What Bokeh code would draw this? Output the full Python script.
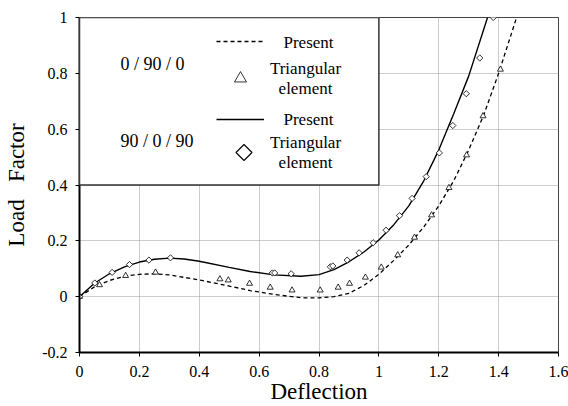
import math
from bokeh.plotting import figure
from bokeh.models import (FixedTicker, BoxAnnotation, Label, Legend, LegendItem,
                          PolyAnnotation, Range1d)
from bokeh.embed import file_html
from bokeh.resources import INLINE

# ---------------- data ----------------
x_ticks = [0, 0.2, 0.4, 0.6, 0.8, 1.0, 1.2, 1.4, 1.6]
x_tick_labels = ["0", "0.2", "0.4", "0.6", "0.8", "1", "1.2", "1.4", "1.6"]
y_ticks = [-0.2, 0, 0.2, 0.4, 0.6, 0.8, 1.0]
y_tick_labels = ["-0.2", "0", "0.2", "0.4", "0.6", "0.8", "1"]
x_title = "Deflection"
y_title = "Load\u00a0\u00a0 Factor"

# 0/90/0 present (dashed)
present_a_x = [0, 0.05, 0.1, 0.15, 0.2, 0.25, 0.3, 0.4, 0.5, 0.57, 0.65, 0.74, 0.8,
               0.85, 0.9, 0.95, 1.0, 1.05, 1.1, 1.15, 1.2, 1.25, 1.3, 1.35, 1.4, 1.46, 1.5]
present_a_y = [0, 0.035, 0.058, 0.073, 0.080, 0.082, 0.078, 0.060, 0.038, 0.022, 0.008,
               -0.004, -0.004, 0.0, 0.012, 0.040, 0.080, 0.130, 0.185, 0.250, 0.325,
               0.415, 0.525, 0.650, 0.800, 1.0, 1.15]
# 0/90/0 triangular element
tri_a_x = [0, 0.067, 0.154, 0.254, 0.469, 0.497, 0.568, 0.637, 0.710, 0.804, 0.864,
           0.902, 0.955, 1.008, 1.063, 1.119, 1.176, 1.234, 1.293, 1.348, 1.406]
tri_a_y = [0, 0.042, 0.075, 0.087, 0.063, 0.059, 0.047, 0.033, 0.023, 0.023, 0.033,
           0.047, 0.069, 0.105, 0.149, 0.212, 0.292, 0.390, 0.507, 0.647, 0.814]
# 90/0/90 present (solid)
present_b_x = [0, 0.05, 0.1, 0.15, 0.2, 0.25, 0.3, 0.35, 0.4, 0.5, 0.57, 0.65, 0.74,
               0.8, 0.85, 0.9, 0.95, 1.0, 1.05, 1.1, 1.15, 1.2, 1.25, 1.3, 1.36, 1.42]
present_b_y = [0, 0.048, 0.082, 0.107, 0.124, 0.134, 0.138, 0.135, 0.127, 0.105, 0.090,
               0.078, 0.073, 0.079, 0.097, 0.125, 0.160, 0.203, 0.258, 0.325, 0.415,
               0.525, 0.655, 0.790, 0.990, 1.2]
# 90/0/90 triangular element
tri_b_x = [0, 0.051, 0.109, 0.167, 0.232, 0.304, 0.644, 0.652, 0.707, 0.838, 0.846,
           0.894, 0.934, 0.981, 1.024, 1.069, 1.111, 1.158, 1.202, 1.247, 1.292, 1.337, 1.382]
tri_b_y = [0, 0.049, 0.087, 0.115, 0.131, 0.139, 0.085, 0.085, 0.082, 0.107, 0.110,
           0.131, 0.157, 0.193, 0.238, 0.290, 0.352, 0.430, 0.515, 0.613, 0.727, 0.855, 1.0]

group_labels = ["0 / 90 / 0", "90 / 0 / 90"]
entry_present = "Present"
entry_tri = ["Triangular", "element"]

FONT = "Liberation Serif"

# ---------------- figure ----------------
p = figure(width=568, height=406, output_backend="svg", toolbar_location=None,
           x_range=Range1d(0, 1.6), y_range=Range1d(-0.2, 1.0),
           min_border_left=79, min_border_right=10, min_border_top=17,
           min_border_bottom=54)
p.background_fill_color = "white"
p.border_fill_color = "white"
p.outline_line_color = "#444444"
p.outline_line_width = 1

for ax, ticks, labels in ((p.xaxis[0], x_ticks, x_tick_labels),
                          (p.yaxis[0], y_ticks, y_tick_labels)):
    ax.ticker = FixedTicker(ticks=ticks)
    ax.major_label_overrides = {t: l for t, l in zip(ticks, labels)}
    ax.axis_line_width = 2
    ax.axis_line_color = "black"
    ax.major_tick_out = 4
    ax.major_tick_in = 0
    ax.major_tick_line_color = "black"
    ax.minor_tick_line_color = None
    ax.major_label_text_font = FONT
    ax.major_label_text_font_size = "16px"
    ax.major_label_text_font_style = "normal"
    ax.major_label_text_color = "black"
    ax.axis_label_text_font = FONT
    ax.axis_label_text_font_size = "23px"
    ax.axis_label_text_font_style = "normal"
    ax.axis_label_text_color = "black"

p.xaxis.axis_label = x_title
p.yaxis.axis_label = y_title
p.xaxis.major_label_standoff = 9
p.xaxis.axis_label_standoff = -1
p.yaxis.major_label_standoff = 8
p.yaxis.axis_label_standoff = 10

for g in (p.xgrid[0], p.ygrid[0]):
    g.grid_line_color = "#999999"
    g.grid_line_dash = "1 1"
    g.grid_line_width = 1

r_pa = p.line(present_a_x, present_a_y, line_color="black", line_width=1.3,
              line_dash="4 3")
r_pb = p.line(present_b_x, present_b_y, line_color="black", line_width=1.4)
r_ta = p.scatter(tri_a_x, tri_a_y, marker="triangle", size=6, fill_color="white",
                 line_color="black", line_width=0.8)
r_tb = p.scatter(tri_b_x, tri_b_y, marker="square", angle=math.pi / 4, size=4.4,
                 fill_color="white", line_color="black", line_width=0.8)

# legend box (spans x 0..1, y 0.4..1 of the plot)
box = BoxAnnotation(left=0, right=1.0, bottom=0.4, top=1.0, fill_color="white",
                    fill_alpha=1.0, line_color="#333333", line_alpha=1.0,
                    line_width=1.5)
p.add_layout(box)

FL, FB = 79, 352  # frame left / bottom in canvas px


def sx(px):
    return px - FL


def sy(py):
    return FB - py


leg1 = Legend(items=[LegendItem(label=" ", renderers=[r_pa]),
                     LegendItem(label=" ", renderers=[r_ta])],
              location=(sx(216), sy(41 + 15 + 37)), glyph_width=48, glyph_height=30,
              spacing=7, padding=0, margin=0, border_line_alpha=0,
              background_fill_alpha=0, label_standoff=0, label_width=1,
              label_text_font_size="1px")
leg2 = Legend(items=[LegendItem(label=" ", renderers=[r_pb])],
              location=(sx(216), sy(119 + 14)), glyph_width=48, glyph_height=28,
              spacing=6, padding=0, margin=0, border_line_alpha=0,
              background_fill_alpha=0, label_standoff=0, label_width=1,
              label_text_font_size="1px")
p.add_layout(leg1)
p.add_layout(leg2)

# diamond legend symbol
cx, cy, hr = 243.5, 152, 8
p.add_layout(PolyAnnotation(xs=[sx(cx), sx(cx + hr), sx(cx), sx(cx - hr)],
                            ys=[sy(cy - hr), sy(cy), sy(cy + hr), sy(cy)],
                            xs_units="screen", ys_units="screen",
                            fill_color="white", fill_alpha=1.0,
                            line_color="black", line_alpha=1.0, line_width=1.1))


def add_text(txt, px, py, size="17px", align="center"):
    p.add_layout(Label(x=sx(px), y=sy(py), x_units="screen", y_units="screen",
                       text=txt, text_font=FONT, text_font_size=size,
                       text_font_style="normal",
                       text_align=align, text_baseline="middle", text_color="black"))


add_text(group_labels[0], 120, 63, size="18px", align="left")
add_text(group_labels[1], 120, 140, size="18px", align="left")
add_text(entry_present, 308, 42)
add_text(entry_tri[0], 305, 68)
add_text(entry_tri[1], 305, 88)
add_text(entry_present, 308, 119)
add_text(entry_tri[0], 305, 142)
add_text(entry_tri[1], 305, 162)

open("out.html", "w").write(file_html(p, INLINE))
